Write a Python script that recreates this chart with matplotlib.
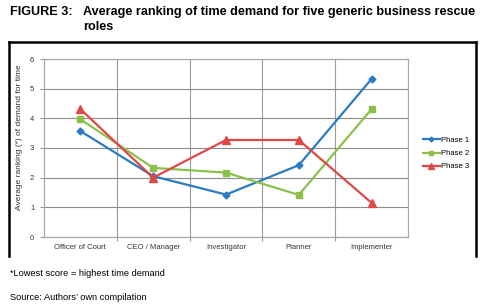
import matplotlib
matplotlib.use("Agg")
import matplotlib.pyplot as plt
from matplotlib.lines import Line2D

plt.rcParams['font.family'] = ['Liberation Sans', 'DejaVu Sans']

categories = ["Officer of Court", "CEO / Manager", "Investigator", "Planner", "Implementer"]
phase1 = [3.57, 2.05, 1.43, 2.42, 5.33]
phase2 = [3.97, 2.33, 2.17, 1.42, 4.31]
phase3 = [4.31, 2.00, 3.27, 3.27, 1.15]
series_names = ["Phase 1", "Phase 2", "Phase 3"]
yticks = [0, 1, 2, 3, 4, 5, 6]

colors = ["#2a7bc4", "#8dc04a", "#e04848"]
markers = ["D", "s", "^"]
msizes = [3.5, 5, 5.5]

fig = plt.figure(figsize=(4.85, 3.07), dpi=100)
ax = fig.add_axes([44/485, 1-237/307, (408-44)/485, (237-59)/307])

x = list(range(len(categories)))
for vals, c, m, ms, name in zip([phase1, phase2, phase3], colors, markers, msizes, series_names):
    ax.plot(x, vals, color=c, marker=m, markersize=ms, linewidth=1.6, label=name, zorder=3)

ax.set_xlim(-0.5, len(categories) - 0.5)
ax.set_ylim(0, 6)
ax.set_yticks(yticks)
ax.set_yticklabels([str(v) for v in yticks], fontsize=5.5, color="#333333")
ax.set_xticks(x)
ax.set_xticklabels(categories, fontsize=5.5, color="#333333")
ax.tick_params(axis='x', length=0, pad=5)
ax.tick_params(axis='y', length=3, color="#999999", width=0.8, pad=4)
ax.set_xticks([i + 0.5 for i in range(len(categories) - 1)], minor=True)
ax.tick_params(axis='x', which='minor', length=3, color="#999999", width=0.8)
ax.grid(True, axis='y', color="#8c8c8c", linewidth=0.8, zorder=0)
ax.grid(True, axis='x', which='minor', color="#999999", linewidth=0.8, zorder=0)
for s in ax.spines.values():
    s.set_color("#aaaaaa")
    s.set_linewidth(0.9)
ax.set_ylabel("Average ranking (*) of demand for time", fontsize=6.0, color="#333333")
ax.yaxis.set_label_coords(-0.058, 0.56)

handles = [Line2D([0], [0], color=c, marker=m, markersize=ms*0.7, linewidth=1.6)
           for c, m, ms in zip(colors, markers, msizes)]
fig.legend(handles, series_names, loc='upper left', bbox_to_anchor=(419/485, 1-133/307),
           frameon=False, fontsize=5.5, handlelength=2.2, handletextpad=0.2,
           labelspacing=0.75, borderpad=0)

# outer frame (no bottom line)
fig.add_artist(Line2D([9/485, 9/485], [1-256/307, 1-42/307], color='black', linewidth=1.8))
fig.add_artist(Line2D([9/485, 476/485], [1-42/307, 1-42/307], color='black', linewidth=1.8))
fig.add_artist(Line2D([476/485, 476/485], [1-42/307, 1-256/307], color='black', linewidth=1.8))

fig.text(10/485, 1-12/307, "FIGURE 3:", fontsize=9.1, fontweight='bold', va='center', ha='left')
fig.text(83/485, 1-12/307, "Average ranking of time demand for five generic business rescue",
         fontsize=9.1, fontweight='bold', va='center', ha='left')
fig.text(83/485, 1-27/307, "roles", fontsize=9.1, fontweight='bold', va='center', ha='left')

fig.text(10/485, 1-274/307, "*Lowest score = highest time demand", fontsize=6.7, va='center', ha='left')
fig.text(10/485, 1-298/307, "Source: Authors\u2019 own compilation", fontsize=6.7, va='center', ha='left')

fig.savefig("out.png", dpi=100)
